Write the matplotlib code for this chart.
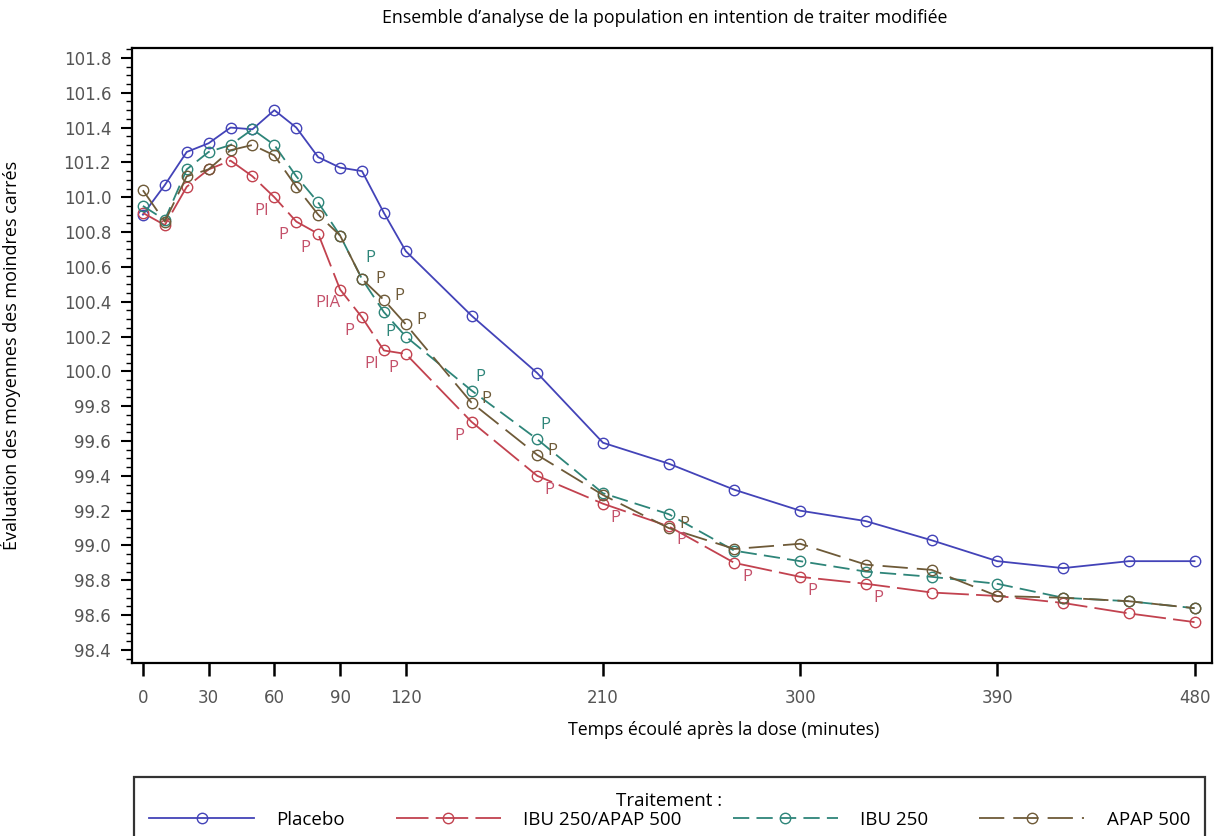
import numpy as np
import matplotlib
matplotlib.use("Agg")
import matplotlib.pyplot as plt
from matplotlib.ticker import MultipleLocator

# temps (minutes)
temps = [0, 10, 20, 30, 40, 50, 60, 70, 80, 90, 100, 110, 120,
         150, 180, 210, 240, 270, 300, 330, 360, 390, 420, 450, 480]

placebo = [100.90, 101.07, 101.26, 101.31, 101.40, 101.39, 101.50, 101.40, 101.23, 101.17,
           101.15, 100.91, 100.69, 100.32, 99.99, 99.59, 99.47, 99.32, 99.20, 99.14,
           99.03, 98.91, 98.87, 98.91, 98.91]
ibu_apap = [100.91, 100.84, 101.06, 101.16, 101.21, 101.12, 101.00, 100.86, 100.79, 100.47,
            100.31, 100.12, 100.10, 99.71, 99.40, 99.24, 99.11, 98.90, 98.82, 98.78,
            98.73, 98.71, 98.67, 98.61, 98.56]
ibu = [100.95, 100.87, 101.16, 101.26, 101.30, 101.39, 101.30, 101.12, 100.97, 100.78,
       100.53, 100.34, 100.20, 99.89, 99.61, 99.30, 99.18, 98.97, 98.91, 98.85,
       98.82, 98.78, 98.70, 98.68, 98.64]
apap = [101.04, 100.86, 101.12, 101.16, 101.27, 101.30, 101.24, 101.06, 100.90, 100.78,
        100.53, 100.41, 100.27, 99.82, 99.52, 99.29, 99.10, 98.98, 99.01, 98.89,
        98.86, 98.71, 98.70, 98.68, 98.64]

noms = ['Placebo', 'IBU 250/APAP 500', 'IBU 250', 'APAP 500']

# lettres de significativité (temps -> texte)
lettres_ibu_apap = {60: 'PI', 70: 'P', 80: 'P', 90: 'PIA', 100: 'P', 110: 'PI', 120: 'P',
                    150: 'P', 180: 'P', 210: 'P', 240: 'P', 270: 'P', 300: 'P', 330: 'P'}
lettres_ibu = {100: 'P', 110: 'P', 150: 'P', 180: 'P'}
lettres_apap = {100: 'P', 110: 'P', 120: 'P', 150: 'P', 180: 'P', 240: 'P'}

graduations_x = [0, 30, 60, 90, 120, 210, 300, 390, 480]

couleurs = ['#4343b8', '#c2424f', '#2e8579', '#6e5a38']
styles = [(None, None), (0, (18, 4)), (0, (9, 4)), (0, (14, 5))]

fig = plt.figure(figsize=(12.14, 8.36), dpi=100)
ax = fig.add_axes([0.1087, 0.2069, 0.8897, 0.7357])

series = [placebo, ibu_apap, ibu, apap]
lignes = []
for y, c, st, nom in zip(series, couleurs, styles, noms):
    kw = dict(color=c, lw=1.3, marker='o', ms=7.5, mfc='none', mec=c, mew=1.0, label=nom)
    if st[1] is not None:
        kw['linestyle'] = st
    l, = ax.plot(temps, y, **kw)
    lignes.append(l)

police = ['Open Sans', 'DejaVu Sans']

def ecrire(lettres, valeurs, couleur, decal, decal_special=None):
    decal_special = decal_special or {}
    for t, txt in lettres.items():
        v = valeurs[temps.index(t)]
        ox, oy = decal_special.get(t, decal(t))
        ax.annotate(txt, (t, v), xytext=(ox, oy), textcoords='offset points',
                    ha='center', va='center', color=couleur, fontsize=12, family=police)

ecrire(lettres_ibu_apap, ibu_apap, '#c4506a', lambda t: (-9, -10) if t <= 150 else (9, -10))
ecrire(lettres_ibu, ibu, couleurs[2], lambda t: (6, 10), {100: (6, 15), 110: (5, -14)})
ecrire(lettres_apap, apap, couleurs[3], lambda t: (11, 3), {100: (13, 0)})

ax.set_xlim(-5, 488)
ax.set_ylim(98.325, 101.857)
ax.set_xticks(graduations_x)
ax.yaxis.set_major_locator(MultipleLocator(0.2))
ax.yaxis.set_minor_locator(MultipleLocator(0.05))
ax.yaxis.set_major_formatter(matplotlib.ticker.FormatStrFormatter('%.1f'))

for s in ax.spines.values():
    s.set_linewidth(1.6)
ax.tick_params(axis='x', length=9, width=1.8, labelsize=12, labelcolor='#555555', pad=10)
ax.tick_params(axis='y', which='major', length=8, width=1.5, labelsize=12,
               labelcolor='#555555', pad=7)
ax.tick_params(axis='y', which='minor', length=4, width=1.0)

ax.set_xlabel('Temps écoulé après la dose (minutes)', fontsize=12.8, family=police)
ax.xaxis.set_label_coords(0.548, -0.094)
ax.set_ylabel('Évaluation des moyennes des moindres carrés', fontsize=13, family=police)
ax.yaxis.set_label_coords(-0.103, 0.5)

fig.text(665 / 1214, 1 - 18 / 836, 'Ensemble d\u2019analyse de la population en intention de traiter modifiée',
         ha='center', va='center', fontsize=12.8, family=police)

leg = fig.legend(lignes, noms, loc='upper left',
                 bbox_to_anchor=(134 / 1214, 1 - 777 / 836, (1205 - 134) / 1214, 0),
                 mode='expand', ncol=4, title='Traitement :', frameon=True, fancybox=False,
                 borderaxespad=0, borderpad=0.8, labelspacing=0.05, handlelength=5.6,
                 handletextpad=1.2,
                 prop={'family': police, 'size': 13.5}, title_fontproperties={'family': police, 'size': 13.5})
leg.get_frame().set_edgecolor('black')
leg.get_frame().set_linewidth(1.6)

fig.savefig('out.png', dpi=100)
